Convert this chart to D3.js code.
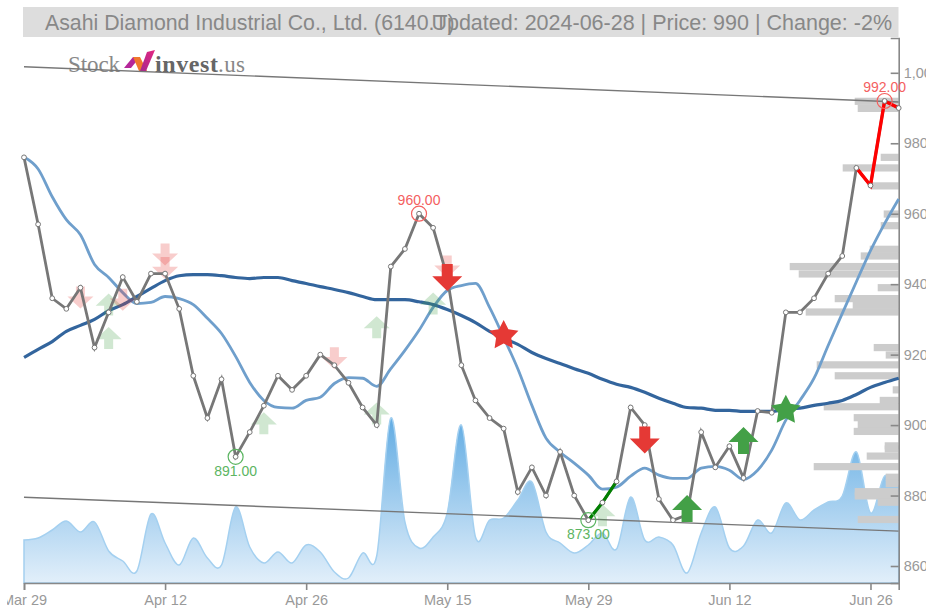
<!DOCTYPE html>
<html>
<head>
<meta charset="utf-8">
<script src="https://cdn.jsdelivr.net/npm/d3@7"></script>
<style>
  body { margin: 0; background: #fff; overflow: hidden; }
  text { font-family: "Liberation Sans", Arial, sans-serif; }
</style>
</head>
<body>
<div id="chart"></div>
<script>
const closePrice = [976,957,936,933,939,922,932,942,935,943,943,933,914,902,913,891,898,905.5,914,910,
  914,920,917,912,905,900,945,950,960,956,942,917,907,902,899,881,888,880,892.4,880,
  873,878,884,905,900,879,873,874.5,898,888,894,885,904,903.5,932,932,936,943,948,973,968,992,990];
const maShort = [976.1,972.7,964.8,958.3,954,945.6,941.9,937.6,934.5,934.8,936.5,935.9,934.2,930.3,926,919.5,912.1,907,905,904.8,
  907,907.9,911.8,913.5,913.3,911,916,921.2,926.9,933.4,938.2,939.6,940.2,933.4,924.9,916,905.6,896.3,892.3,889.2,
  885.8,881.8,882.4,885.5,887.8,885.8,884.9,884.9,887.8,888.3,887.2,884.6,887.2,892.9,901.4,907,913.3,922.6,931.7,940.7,949.5,957.2,964.2];
const maLong = [919.2,921.5,923.7,926.6,928.3,930,932.5,934.2,936.5,938.8,941,942.4,942.7,942.7,942.4,941.9,941.6,941.9,941.9,941,
  940.2,939.3,938.5,937.6,936.5,935.6,935.6,935.6,935,934.2,932.8,931.1,929.1,926.6,924.6,922.9,920.6,918.9,917.5,916,
  914.7,913,911.6,910.7,909.3,907.6,906.2,905,904.8,904.2,904.2,903.9,903.9,903.9,904.5,904.8,905.6,906.2,907,908.7,910.7,912.1,913.3];
const volume = [4300,4500,5300,6200,5100,6100,3200,2200,1200,6900,4000,1800,4500,2500,1800,7600,3600,2000,3100,2000,
  3800,3100,1100,500,3000,2700,16500,6100,3500,4600,7000,15800,4600,6300,6500,8300,10100,5100,4000,3000,
  3800,5000,3400,8600,4300,4600,3800,1000,5000,7600,3500,3700,6300,5000,8000,6300,7300,8100,8700,13100,7000,10700,9600];
const xTickIdx = [0,10,20,30,40,50,60];
const xTickLabels = ['Mar 29','Apr 12','Apr 26','May 15','May 29','Jun 12','Jun 26'];
const yTicks = [860,880,900,920,940,960,980,1000];

// volume by price: [price, volume]
const profile = [[991.9,44],[989.9,41],[976,18],[973,56],[967.9,28],[959.9,15],[956.6,18],[949.9,29],[948,38],[945,109],
  [942.9,100],[939,21],[935.9,64],[934,46],[932.1,93],[922,25],[919.9,13],[917.1,82],[914,64],[910,6],
  [907,19],[905.2,75],[902.1,45],[900.2,41],[898.2,45],[894.1,14],[893.2,14],[891.2,32],[888.2,85],[885.2,13],[883.4,13],
  [881.1,44],[879.9,44],[878.1,21],[873.2,41]];

// trend lines: [idx, price]
const trendTop = [[0,1001.7],[62,991.7]];
const trendBottom = [[0,879.5],[62,869.9]];

// signals: [idx, price]
const buyFaint = [[6,934.2],[6,924.7],[25,927.8],[29,934.5],[25,903.3],[17,900.5],[41,874.4]];
const sellFaint = [[4,936.2],[7,935.6],[10,948.4],[10,944.6],[22,919],[30,945]];
const buyStrong = [[47,876.3],[51,895.6]];
const sellStrong = [[30,941.9],[44,895.8]];
const starsRed = [[34,925.4]];
const starsGreen = [[54,904.2]];
const highs = [[28,960,'960.00'],[61,992,'992.00']];
const lows = [[15,891,'891.00'],[40,873,'873.00']];

const width = 926, height = 610;
const svg = d3.select('#chart').append('svg').attr('width', width).attr('height', height);

const x = d3.scaleLinear().domain([0,62]).range([24,898.7]);
const y = d3.scaleLinear().domain([860,1000]).range([566,72.8]);
const yBottom = 583, yTop = 38;
const volY = d3.scaleLinear().domain([0,16500]).range([yBottom,418]);
const profW = d3.scaleLinear().domain([0,120]).range([0,120]);

// title bar
svg.append('rect').attr('x',23).attr('y',7).attr('width',875.5).attr('height',30).attr('fill','#dddddd');
svg.append('text').attr('x',45).attr('y',30).attr('font-size',21.3).attr('fill','#888')
  .text('Asahi Diamond Industrial Co., Ltd. (6140.T)');
svg.append('text').attr('x',892).attr('y',30).attr('text-anchor','end').attr('font-size',21.5).attr('fill','#888')
  .text('Updated: 2024-06-28 | Price: 990 | Change: -2%');

const defs = svg.append('defs');
const grad = defs.append('linearGradient').attr('id','volFill').attr('x1',0).attr('y1',0).attr('x2',0).attr('y2',1);
grad.append('stop').attr('offset','0%').attr('stop-color','#62ace3');
grad.append('stop').attr('offset','100%').attr('stop-color','#e2effa');
const logoGrad = defs.append('linearGradient').attr('id','logoFill').attr('x1',0).attr('y1',1).attr('x2',1).attr('y2',0);
logoGrad.append('stop').attr('offset','0%').attr('stop-color','#a5288f');
logoGrad.append('stop').attr('offset','100%').attr('stop-color','#e5267f');
defs.append('clipPath').attr('id','leftClip').append('rect').attr('x',7).attr('y',-10).attr('width',width).attr('height',60);

// logo
const logo = svg.append('g').style('font-family','"Liberation Serif", serif');
logo.append('text').attr('x',68).attr('y',72).attr('font-size',23).attr('fill','#888')
  .attr('textLength',52).style('font-family','inherit').text('Stock');
logo.append('path').attr('d','M124,68L133,57L140,57L131,68Z').attr('fill','#b5279a');
logo.append('path').attr('d','M133,57L140,57L147,71L139,71Z').attr('fill','#f0772d');
logo.append('path').attr('d','M140,71L147,52L155,50L146,71Z').attr('fill','url(#logoFill)');
logo.append('text').attr('x',155).attr('y',72).attr('font-size',24).attr('font-weight',700).attr('fill','#666')
  .attr('textLength',63).style('font-family','inherit').text('invest');
logo.append('text').attr('x',218).attr('y',72).attr('font-size',23).attr('fill','#888')
  .attr('textLength',27).style('font-family','inherit').text('.us');

// volume area
const area = d3.area().x((d,i) => x(i)).y0(yBottom).y1(d => volY(d)).curve(d3.curveCardinal.tension(0));
svg.append('path').datum(volume).attr('d',area).attr('fill','url(#volFill)').attr('stroke','#a4d0f0').attr('stroke-width',1.5);

// volume by price
svg.append('g').selectAll('rect').data(profile).join('rect')
  .attr('x', d => x(62) - profW(d[1]))
  .attr('y', d => y(d[0]) - 3.6)
  .attr('width', d => profW(d[1]))
  .attr('height', 7.2)
  .attr('fill','#cccccc');

// trend lines
const trendLine = d3.line().x(d => x(d[0])).y(d => y(d[1]));
[trendTop,trendBottom].forEach(t => {
  svg.append('path').datum(t).attr('d',trendLine).attr('fill','none').attr('stroke','#777').attr('stroke-width',1.4);
});

// axes
const xAxis = svg.append('g').attr('transform',`translate(0,${yBottom})`).attr('clip-path','url(#leftClip)')
  .call(d3.axisBottom(x).tickValues(xTickIdx).tickFormat((d,i) => xTickLabels[i]).tickSize(7).tickPadding(5));
const yAxis = svg.append('g').attr('transform',`translate(${x(62)},0)`)
  .call(d3.axisRight(y.copy().domain([y.invert(yBottom),y.invert(yTop)]).range([yBottom,yTop]))
    .tickValues(yTicks).tickFormat(d3.format(',')).tickSize(-8).tickPadding(5));
[xAxis,yAxis].forEach(a => {
  a.selectAll('.domain,line').attr('stroke','#888').attr('stroke-width',1.6);
  a.selectAll('text').attr('fill','#999').attr('font-size',14.5).style('font-family','"Liberation Sans", Arial, sans-serif');
});

// moving averages
const line = d3.line().x((d,i) => x(i)).y(d => y(d)).curve(d3.curveMonotoneX);
svg.append('path').datum(maShort).attr('d',line).attr('fill','none').attr('stroke','#6f9fcc').attr('stroke-width',2.8);
svg.append('path').datum(maLong).attr('d',line).attr('fill','none').attr('stroke','#33659d').attr('stroke-width',3.2);

// faint signals under the price
const arrowPath = (w, h, shaft) => {
  const head = h * 0.55;
  return `M0,${-h/2}L${w/2},${-h/2+head}L${shaft/2},${-h/2+head}L${shaft/2},${h/2}L${-shaft/2},${h/2}L${-shaft/2},${-h/2+head}L${-w/2},${-h/2+head}Z`;
};
const drawArrows = (data, color, down, w, h, shaft, opacity) => {
  svg.append('g').selectAll('path').data(data).join('path')
    .attr('d', arrowPath(w,h,shaft))
    .attr('transform', d => `translate(${x(d[0])},${y(d[1])})${down ? ' scale(1,-1)' : ''}`)
    .attr('fill', color).attr('opacity', opacity);
};
drawArrows(buyFaint,'#43a047',false,26,22,9,0.25);
drawArrows(sellFaint,'#e53935',true,26,22,9,0.25);

// price
const priceLine = d3.line().x(d => x(d.i)).y(d => y(d.v));
const pricePts = closePrice.map((v,i) => ({i,v}));
svg.append('path').datum(pricePts).attr('d',priceLine).attr('fill','none').attr('stroke','#777').attr('stroke-width',2.8);
svg.append('path').datum(pricePts.slice(40,43)).attr('d',priceLine).attr('fill','none').attr('stroke','#008000').attr('stroke-width',3.2);
svg.append('path').datum(pricePts.slice(59,63)).attr('d',priceLine).attr('fill','none').attr('stroke','#ff0000').attr('stroke-width',3.4);
svg.append('g').selectAll('circle').data(pricePts).join('circle')
  .attr('cx', d => x(d.i)).attr('cy', d => y(d.v)).attr('r',2.4)
  .attr('fill','#fff').attr('stroke','#777').attr('stroke-width',1);

// strong signals
drawArrows(buyStrong,'#43a047',false,30,27,11,1);
drawArrows(sellStrong,'#e53935',true,30,27,11,1);
// fatter than d3.symbolStar
const starPath = (outer, inner) => d3.lineRadial().curve(d3.curveLinearClosed)(
  d3.range(10).map(k => [k * Math.PI / 5, k % 2 ? inner : outer]));
[[starsRed,'#e53935'],[starsGreen,'#43a047']].forEach(([data,color]) => {
  svg.append('g').selectAll('path').data(data).join('path')
    .attr('d',starPath(15.5,8)).attr('transform', d => `translate(${x(d[0])},${y(d[1])})`).attr('fill',color);
});

// high and low labels
const drawExtremes = (data, color, dy) => {
  const g = svg.append('g').selectAll('g').data(data).join('g')
    .attr('transform', d => `translate(${x(d[0])},${y(d[1])})`);
  g.append('circle').attr('r',7.5).attr('fill','none').attr('stroke',color).attr('stroke-width',1.2);
  g.append('text').attr('y',dy).attr('text-anchor','middle').attr('font-size',14).attr('fill',color).text(d => d[2]);
};
drawExtremes(highs,'#f4605f',-8.5);
drawExtremes(lows,'#5cb562',19);
</script>
</body>
</html>
